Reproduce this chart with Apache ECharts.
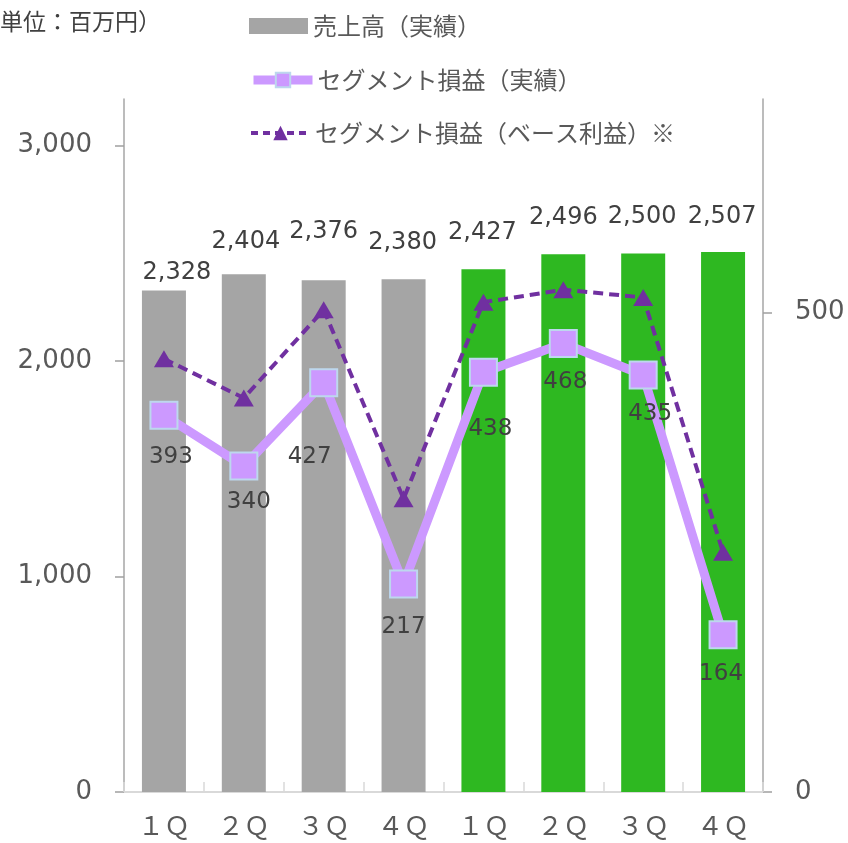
<!DOCTYPE html>
<html>
<head>
<meta charset="utf-8">
<script src="https://cdn.jsdelivr.net/npm/echarts@6/dist/echarts.min.js"></script>
<style>
  html, body { margin: 0; padding: 0; background: #ffffff; }
  #chart { width: 848px; height: 843px; }
</style>
</head>
<body>
<div id="chart"></div>
<script>
// ---- data ----
const categories = ['１Ｑ', '２Ｑ', '３Ｑ', '４Ｑ', '１Ｑ', '２Ｑ', '３Ｑ', '４Ｑ'];
const salesActual = [2328, 2404, 2376, 2380, 2427, 2496, 2500, 2507];
const segmentProfitActual = [393, 340, 427, 217, 438, 468, 435, 164];
const segmentProfitBase = [452, 411, 503, 306, 511, 524, 516, 250];
const leftTickValues = [0, 1000, 2000, 3000];
const rightTickValues = [0, 500];
const seriesNames = ['売上高（実績）', 'セグメント損益（実績）', 'セグメント損益（ベース利益）※'];
const unitText = '（単位：百万円）';

// ---- styles ----
const numFont = 'DejaVu Sans';
const cjkFont = 'Noto Sans CJK JP';
const grey = '#a5a5a5';
const green = '#2eb821';
const barColors = [grey, grey, grey, grey, green, green, green, green];
const barLabelOffsets = [[13, -6], [2, -20], [0, -36], [-1, -25], [-1, -24], [0, -25], [-1, -25], [-1, -23]];
const profitLabelOffsets = [[7, 42], [5, 36], [-14, 74], [0, 43], [7, 57], [2, 39], [7, 39], [-2, 39]];

const fmt = v => Number(v).toLocaleString('en-US');

const chart = echarts.init(document.getElementById('chart'), null, { renderer: 'canvas' });

const legendCommon = {
  orient: 'horizontal',
  left: 249,
  padding: 0,
  itemWidth: 59,
  itemHeight: 18,
  selectedMode: false,
  textStyle: { fontFamily: cjkFont, fontSize: 24, color: '#595959' }
};

const option = {
  animation: false,
  backgroundColor: '#ffffff',
  graphic: [{
    type: 'text',
    left: -23,
    top: 10,
    style: { text: unitText, fontFamily: cjkFont, fontSize: 23, fill: '#404040' }
  }],
  legend: [
    Object.assign({}, legendCommon, { top: 14, data: [{ name: seriesNames[0], icon: 'rect' }], itemHeight: 16 }),
    Object.assign({}, legendCommon, {
      top: 68,
      data: [{
        name: seriesNames[1],
        lineStyle: { width: 9, color: '#cc99ff' },
        itemStyle: { color: '#cc99ff', borderColor: '#bdd7ee', borderWidth: 2 }
      }]
    }),
    Object.assign({}, legendCommon, {
      top: 121,
      data: [{
        name: seriesNames[2],
        lineStyle: { width: 4, color: '#7030a0', type: [7, 5] },
        itemStyle: { color: '#7030a0' }
      }]
    })
  ],
  grid: { left: 124, right: 85, top: 99, bottom: 51, containLabel: false },
  xAxis: {
    type: 'category',
    data: categories,
    boundaryGap: true,
    axisLine: { show: true, lineStyle: { color: '#d9d9d9', width: 2 } },
    axisTick: { show: true, inside: true, length: 10, lineStyle: { color: '#d9d9d9', width: 1.5 } },
    axisLabel: { margin: 20, fontFamily: cjkFont, fontSize: 26, color: '#595959' },
    splitLine: { show: false }
  },
  yAxis: [{
    type: 'value',
    min: 0,
    max: 3217,
    interval: 1000,
    axisLine: { show: true, lineStyle: { color: '#a6a6a6', width: 1.5 } },
    axisTick: { show: true, length: 9, customValues: leftTickValues, lineStyle: { color: '#a0a0a0', width: 1.5 } },
    axisLabel: { customValues: leftTickValues, margin: 32, fontFamily: numFont, fontSize: 26, color: '#595959', formatter: v => fmt(v) },
    splitLine: { show: false }
  }, {
    type: 'value',
    min: 0,
    max: 723,
    interval: 500,
    position: 'right',
    axisLine: { show: true, lineStyle: { color: '#a6a6a6', width: 1.5 } },
    axisTick: { show: true, length: 9, customValues: rightTickValues, lineStyle: { color: '#a0a0a0', width: 1.5 } },
    axisLabel: { customValues: rightTickValues, margin: 32, fontFamily: numFont, fontSize: 26, color: '#595959', formatter: v => fmt(v) },
    splitLine: { show: false }
  }],
  series: [{
    name: seriesNames[0],
    type: 'bar',
    yAxisIndex: 0,
    barWidth: 44,
    itemStyle: { color: grey },
    data: salesActual.map((v, i) => ({
      value: v,
      itemStyle: { color: barColors[i] },
      label: { offset: barLabelOffsets[i] }
    })),
    label: {
      show: true,
      position: 'top',
      distance: 0,
      fontFamily: numFont,
      fontSize: 24,
      color: '#404040',
      formatter: p => fmt(p.value)
    },
    z: 2
  }, {
    name: seriesNames[1],
    type: 'line',
    yAxisIndex: 1,
    symbol: 'rect',
    symbolSize: 27,
    lineStyle: { color: '#cc99ff', width: 9 },
    itemStyle: { color: '#cc99ff', borderColor: '#bdd7ee', borderWidth: 2 },
    data: segmentProfitActual.map((v, i) => ({
      value: v,
      label: { offset: profitLabelOffsets[i] }
    })),
    label: {
      show: true,
      position: 'inside',
      fontFamily: numFont,
      fontSize: 23,
      color: '#404040'
    },
    z: 4
  }, {
    name: seriesNames[2],
    type: 'line',
    yAxisIndex: 1,
    symbol: 'triangle',
    symbolSize: [20, 17],
    lineStyle: { color: '#7030a0', width: 4, type: [10, 6] },
    itemStyle: { color: '#7030a0' },
    data: segmentProfitBase,
    label: { show: false },
    z: 3
  }]
};

chart.setOption(option);
</script>
</body>
</html>
